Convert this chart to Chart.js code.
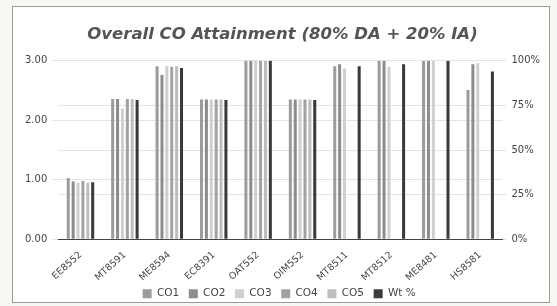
<!DOCTYPE html>
<html>
<head>
<meta charset="utf-8">
<script src="https://cdn.jsdelivr.net/npm/chart.js@4"></script>
<style>
  html, body { margin: 0; padding: 0; background: #f7f7f4; }
  #frame { position: absolute; left: 12px; top: 6px; width: 536px; height: 295px;
           border: 1px solid #9a9a9a; background: #fff; }
  #frame canvas { display: block; }
</style>
</head>
<body>
<div id="frame"><canvas id="chart" width="536" height="295"></canvas></div>
<script>
// course codes
var courses = ['EE8552', 'MT8591', 'ME8594', 'EC8391', 'OAT552', 'OIM552', 'MT8511', 'MT8512', 'ME8481', 'HS8581'];

// attainment per CO (0 - 3 scale), null = no bar
var co1 = [1.03, 2.36, 2.91, 2.35, 3.00, 2.35, 2.91, 3.00, 3.00, 2.51];
var co2 = [0.97, 2.36, 2.76, 2.35, 3.00, 2.35, 2.94, 3.00, 3.00, 2.94];
var co3 = [0.95, 2.20, 2.91, 2.35, 3.00, 2.35, 2.87, 2.90, 3.00, 2.96];
var co4 = [0.98, 2.36, 2.90, 2.35, 3.00, 2.35, null, null, null, null];
var co5 = [0.95, 2.36, 2.91, 2.35, 3.00, 2.35, null, null, null, null];
// weighted percentage (right axis)
var wtPct = [32, 78, 96, 78, 100, 78, 97, 98, 100, 94];

var leftTicks = [0, 1, 2, 3];
var rightTicks = [0, 25, 50, 75, 100];

function bar(label, data, color, axis) {
  return {
    label: label,
    data: data,
    backgroundColor: color,
    borderWidth: 0,
    yAxisID: axis,
    barPercentage: 0.62,
    categoryPercentage: 0.66
  };
}

var ctx = document.getElementById('chart').getContext('2d');
new Chart(ctx, {
  type: 'bar',
  data: {
    labels: courses,
    datasets: [
      bar('CO1', co1, '#9c9c9c', 'y'),
      bar('CO2', co2, '#8c8c8c', 'y'),
      bar('CO3', co3, '#cfcfcf', 'y'),
      bar('CO4', co4, '#a2a2a2', 'y'),
      bar('CO5', co5, '#bdbdbd', 'y'),
      bar('Wt %', wtPct, '#3a3a3a', 'y2')
    ]
  },
  options: {
    responsive: false,
    animation: false,
    layout: { padding: { left: 7, right: 4, top: 16, bottom: -7 } },
    plugins: {
      title: {
        display: true,
        text: 'Overall CO Attainment (80% DA + 20% IA)',
        color: '#555',
        font: { family: 'DejaVu Sans', size: 16.5, weight: 'bold', style: 'italic' },
        padding: { top: 2, bottom: 16 }
      },
      legend: {
        position: 'bottom',
        labels: {
          color: '#444',
          boxWidth: 9,
          boxHeight: 9,
          padding: 3,
          font: { family: 'DejaVu Sans', size: 10.5 },
          generateLabels: function (chart) {
            var items = Chart.defaults.plugins.legend.labels.generateLabels(chart);
            items.forEach(function (it) { it.text = it.text + '  '; });
            return items;
          }
        }
      },
      tooltip: { enabled: false }
    },
    scales: {
      x: {
        grid: { display: false },
        border: { color: '#444', width: 1 },
        ticks: {
          color: '#444',
          maxRotation: 42,
          minRotation: 42,
          padding: 2,
          font: { family: 'DejaVu Sans', size: 9.5 }
        }
      },
      y: {
        position: 'left',
        min: 0,
        max: 3,
        afterBuildTicks: function (axis) {
          axis.ticks = leftTicks.map(function (v) { return { value: v }; });
        },
        grid: { color: '#e4e4e4', tickLength: 6 },
        border: { display: false },
        ticks: {
          color: '#444',
          padding: 5,
          font: { family: 'DejaVu Sans', size: 10 },
          callback: function (v) { return v.toFixed(2); }
        }
      },
      y2: {
        position: 'right',
        min: 0,
        max: 100,
        afterBuildTicks: function (axis) {
          axis.ticks = rightTicks.map(function (v) { return { value: v }; });
        },
        grid: { color: '#e4e4e4', tickLength: 4 },
        border: { display: false },
        ticks: {
          color: '#444',
          padding: 5,
          font: { family: 'DejaVu Sans', size: 10 },
          callback: function (v) { return v + '%'; }
        }
      }
    }
  }
});
</script>
</body>
</html>
